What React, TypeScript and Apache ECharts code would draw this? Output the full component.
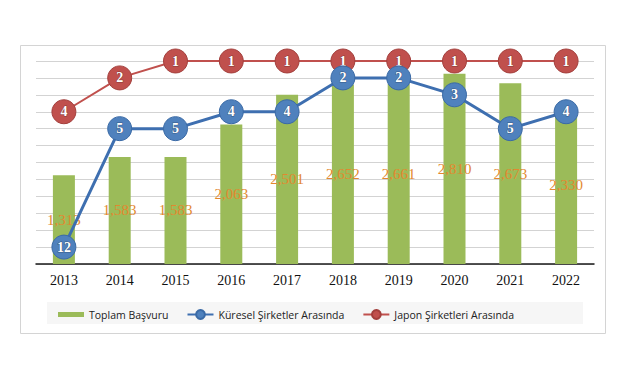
import React, { useEffect, useRef } from "react";
import * as echarts from "echarts";

const years = ["2013", "2014", "2015", "2016", "2017", "2018", "2019", "2020", "2021", "2022"];
const totalApplications = [1313, 1583, 1583, 2063, 2501, 2652, 2661, 2810, 2673, 2330];
const globalRank = [12, 5, 5, 4, 4, 2, 2, 3, 5, 4];
const japanRank = [4, 2, 1, 1, 1, 1, 1, 1, 1, 1];

const seriesNames = ["Toplam Başvuru", "Küresel Şirketler Arasında", "Japon Şirketleri Arasında"];

export default function App() {
  const ref = useRef<HTMLDivElement>(null);
  useEffect(() => {
    if (!ref.current) return;
    const chart = echarts.init(ref.current, null, { renderer: "svg" });
    const circleLabel = {
      show: true,
      position: "inside" as const,
      color: "#ffffff",
      fontFamily: "Liberation Serif",
      fontSize: 14,
      fontWeight: "bold" as const,
      textBorderColor: "rgba(0,0,0,0.35)",
      textBorderWidth: 1,
    };
    chart.setOption({
      animation: false,
      backgroundColor: "#ffffff",
      graphic: [
        {
          type: "rect",
          shape: { x: 20.5, y: 45.5, width: 585, height: 288 },
          style: { fill: "none", stroke: "#d4d4d4", lineWidth: 1 },
          z: -10,
        },
        {
          type: "rect",
          shape: { x: 47, y: 302, width: 536, height: 22 },
          style: { fill: "#f6f6f6", stroke: "none" },
          z: -10,
        },
      ],
      grid: { left: 36, right: 47, top: 61, bottom: 116, containLabel: false },
      legend: {
        left: 53,
        top: 304,
        itemWidth: 26,
        itemHeight: 11,
        itemGap: 18,
        textStyle: { fontFamily: "Open Sans", fontSize: 10.5, color: "#222222" },
        data: [
          { name: seriesNames[0], icon: "path://M0,0h26v5h-26z" },
          { name: seriesNames[1] },
          { name: seriesNames[2] },
        ],
      },
      xAxis: {
        type: "category",
        data: years,
        axisTick: { show: false },
        axisLine: { show: true, lineStyle: { color: "#1a1a1a", width: 1.5 } },
        axisLabel: {
          fontFamily: "Liberation Serif",
          fontSize: 14,
          color: "#111111",
          margin: 9,
        },
      },
      yAxis: [
        {
          type: "value",
          min: 0,
          max: 3000,
          interval: 250,
          axisLabel: { show: false },
          axisLine: { show: false },
          axisTick: { show: false },
          splitLine: { lineStyle: { color: "#d3d3d3", width: 1 } },
        },
        {
          type: "value",
          inverse: true,
          min: 1,
          max: 13,
          show: false,
          splitLine: { show: false },
        },
      ],
      series: [
        {
          name: seriesNames[0],
          type: "bar",
          data: totalApplications,
          barWidth: 22,
          itemStyle: { color: "#9bbb59" },
          label: {
            show: true,
            position: "inside",
            color: "#e3882f",
            fontFamily: "Liberation Serif",
            fontSize: 15,
            formatter: (p: any) => Number(p.value).toLocaleString("en-US"),
          },
          z: 1,
        },
        {
          name: seriesNames[2],
          type: "line",
          yAxisIndex: 1,
          data: japanRank,
          symbol: "circle",
          symbolSize: 24,
          lineStyle: { color: "#c0504d", width: 2 },
          itemStyle: { color: "#c0504d", borderColor: "#a33f3c", borderWidth: 1 },
          label: circleLabel,
          z: 3,
        },
        {
          name: seriesNames[1],
          type: "line",
          yAxisIndex: 1,
          data: globalRank,
          symbol: "circle",
          symbolSize: 24,
          lineStyle: { color: "#3e6fb0", width: 3 },
          itemStyle: { color: "#4f81bd", borderColor: "#3a6aa6", borderWidth: 1 },
          label: circleLabel,
          z: 4,
        },
      ],
    });
    return () => chart.dispose();
  }, []);
  return <div ref={ref} style={{ width: 641, height: 380, position: "absolute", left: 0, top: 0 }} />;
}
